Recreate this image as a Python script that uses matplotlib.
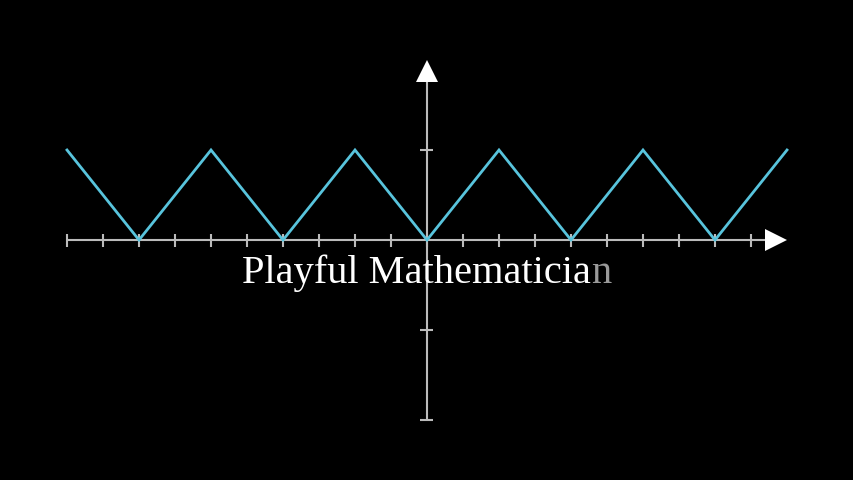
import matplotlib
matplotlib.use("Agg")
import matplotlib.pyplot as plt
from matplotlib.patches import Polygon
import numpy as np

# Data
wave_x = [-10, -8, -6, -4, -2, 0, 2, 4, 6, 8, 10]
wave_y = [1, 0, 1, 0, 1, 0, 1, 0, 1, 0, 1]
x_ticks = list(range(-10, 10))
y_ticks = [-2, -1, 1]
x_range = (-10, 10)
y_range = (-2, 2)
title_main = "Playful Mathematicia"
title_fade = "n"

W, H, DPI = 854, 480, 100
fig = plt.figure(figsize=(W / DPI, H / DPI), dpi=DPI, facecolor="black")
ax = fig.add_axes([0, 0, 1, 1])
ax.set_facecolor("black")
ax.axis("off")

# unit sizes in pixels
ux, uy = 36.0, 90.0
half_w = W / 2 / ux
half_h = H / 2 / uy
ax.set_xlim(-half_w, half_w)
ax.set_ylim(-half_h, half_h)

axis_col = "#BBBBBB"
curve_col = "#58C4DD"
lw_axis = 1.5
tick_px = 6.5
arrow_len_px = 22
arrow_w_px = 22

# x axis
xa_end = x_range[1] - arrow_len_px / ux
ax.plot([x_range[0], xa_end + 0.05], [0, 0], color=axis_col, lw=lw_axis, solid_capstyle="butt", zorder=2)
for t in x_ticks:
    ax.plot([t, t], [-tick_px / uy, tick_px / uy], color=axis_col, lw=lw_axis, solid_capstyle="butt", zorder=2)
ax.add_patch(Polygon([[x_range[1], 0], [xa_end, arrow_w_px / 2 / uy], [xa_end, -arrow_w_px / 2 / uy]],
                     closed=True, color="white", lw=0, zorder=3))

# y axis
ya_end = y_range[1] - arrow_len_px / uy
ax.plot([0, 0], [y_range[0], ya_end + 0.02], color=axis_col, lw=lw_axis, solid_capstyle="butt", zorder=2)
for t in y_ticks:
    ax.plot([-tick_px / ux, tick_px / ux], [t, t], color=axis_col, lw=lw_axis, solid_capstyle="butt", zorder=2)
ax.add_patch(Polygon([[0, y_range[1]], [arrow_w_px / 2 / ux, ya_end], [-arrow_w_px / 2 / ux, ya_end]],
                     closed=True, color="white", lw=0, zorder=3))

# curve
ax.plot(wave_x, wave_y, color=curve_col, lw=2.0, zorder=4, solid_joinstyle="miter")

# title text
fs = 29.2
fam = ["Liberation Serif", "DejaVu Serif"]
t1 = ax.text(0, 0, title_main, color="white", fontsize=fs, family=fam, ha="left", va="baseline", zorder=5)
fig.canvas.draw()
r = fig.canvas.get_renderer()
t2tmp = ax.text(0, 0, title_main + title_fade, fontsize=fs, family=fam, ha="left", va="baseline")
full_w = t2tmp.get_window_extent(r).width
t2tmp.remove()
x_left_px = W / 2 - full_w / 2
baseline_px = H - 283
inv = ax.transData.inverted()
xl, yb = inv.transform((x_left_px, baseline_px))
t1.set_position((xl, yb))
fig.canvas.draw()
bb = t1.get_window_extent(r)
xn, _ = inv.transform((bb.x1, baseline_px))
ax.text(xn, yb, title_fade, color="#9A9A9A", fontsize=fs, family=fam, ha="left", va="baseline", zorder=5)

fig.savefig("out.png", dpi=DPI, facecolor="black")
